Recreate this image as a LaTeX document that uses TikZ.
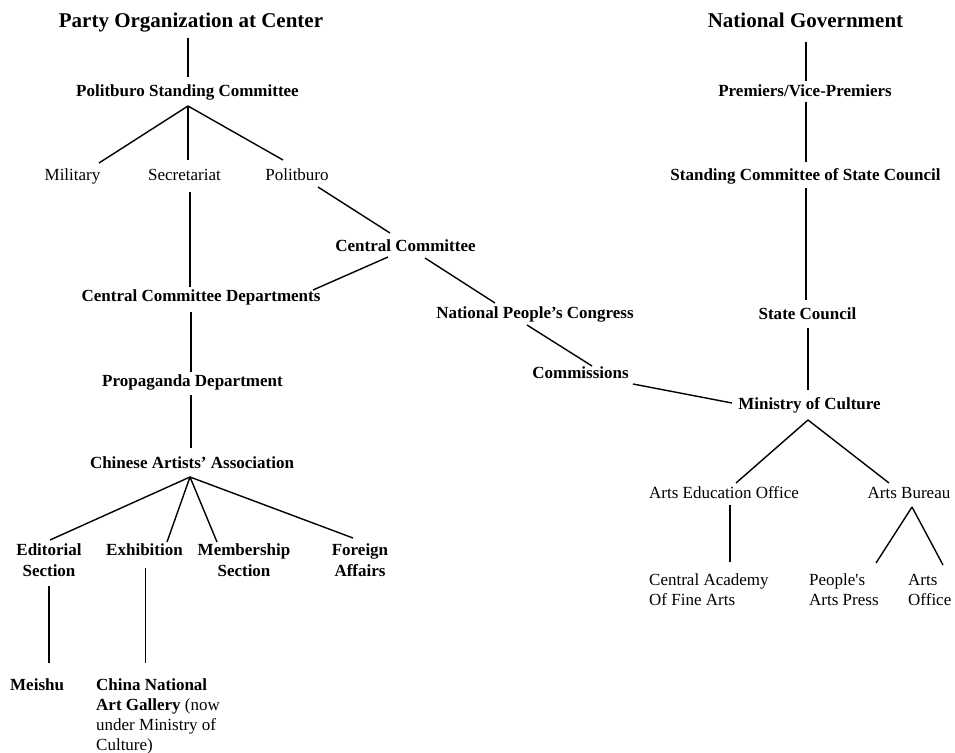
\documentclass[tikz,border=0pt]{standalone}
\usepackage{fontspec}
\setmainfont{Liberation Serif}[Ligatures=TeXOff]
\begin{document}
\begin{tikzpicture}[x=1pt,y=-1pt,
  lbl/.style={font=\fontsize{17}{20.5}\selectfont, inner sep=0pt, anchor=base},
  blbl/.style={lbl, font=\fontsize{17}{20.5}\selectfont\bfseries},
  ttl/.style={inner sep=0pt, anchor=base, font=\fontsize{21}{25}\selectfont\bfseries},
  link/.style={line width=1.4pt}]
\useasboundingbox (0,0) rectangle (955,752);
% nodes (multi-line nodes: base = baseline of last line)
\node[ttl] (party) at (191,28) {Party Organization at Center};
\node[ttl] (natgov) at (805.5,28) {National Government};
\node[blbl] (psc) at (187.5,96.5) {Politburo Standing Committee};
\node[blbl] (prem) at (805,96.5) {Premiers/Vice-Premiers};
\node[lbl] (mil) at (72.5,180) {Military};
\node[lbl] (sec) at (184.5,180) {Secretariat};
\node[lbl] (pol) at (297,180) {Politburo};
\node[blbl] (scsc) at (805.5,180) {Standing Committee of State Council};
\node[blbl] (cc) at (405.5,251.5) {Central Committee};
\node[blbl] (ccd) at (201,301.5) {Central Committee Departments};
\node[blbl] (npc) at (535,318) {National People’s Congress};
\node[blbl] (sc) at (807.5,319.5) {State Council};
\node[blbl] (com) at (580.5,378) {Commissions};
\node[blbl] (prop) at (192.5,386.5) {Propaganda Department};
\node[blbl] (moc) at (809.5,409) {Ministry of Culture};
\node[blbl] (caa) at (192,468) {Chinese Artists’ Association};
\node[lbl] (aeo) at (724,498) {Arts Education Office};
\node[lbl] (ab) at (909,498) {Arts Bureau};
\node[blbl, align=center] (edit) at (49,576) {Editorial\\Section};
\node[blbl] (exh) at (144.5,555) {Exhibition};
\node[blbl, align=center] (mem) at (244,576) {Membership\\Section};
\node[blbl, align=center] (for) at (360,576) {Foreign\\Affairs};
\node[lbl, align=left, anchor=base west] (cafa) at (649,605.5) {Central Academy\\Of Fine Arts};
\node[lbl, align=left, anchor=base west] (pap) at (809,605.5) {People's\\Arts Press};
\node[lbl, align=left, anchor=base west] (ao) at (908,605.5) {Arts\\Office};
\node[blbl, anchor=base west] (mei) at (10,690) {Meishu};
\node[lbl, align=left, anchor=base west, font=\fontsize{17}{20}\selectfont] (cnag) at (96,750) {\textbf{China National}\\\textbf{Art Gallery} (now\\under Ministry of\\Culture)};
% connector end points
\coordinate (partyB) at (188,38);   \coordinate (pscT) at (188,77);
\coordinate (pscB) at (188,106);
\coordinate (milT) at (99,163);     \coordinate (secT) at (188,160);
\coordinate (polT) at (283,160);
\coordinate (polB) at (318,187);    \coordinate (ccT) at (390,233);
\coordinate (secB) at (190,192);    \coordinate (ccdT) at (190,287);
\coordinate (ccBL) at (388,257);    \coordinate (ccdR) at (313,290);
\coordinate (ccBR) at (425,258);    \coordinate (npcT) at (495,303);
\coordinate (npcB) at (527,325);    \coordinate (comT) at (592,366);
\coordinate (comR) at (633,384);    \coordinate (mocL) at (732,403);
\coordinate (mocB) at (808,420);
\coordinate (aeoT) at (736,483);    \coordinate (abT) at (889,483);
\coordinate (aeoB) at (730,505);    \coordinate (cafaT) at (730,562);
\coordinate (abB) at (912,507);
\coordinate (papT) at (876,563);    \coordinate (aoT) at (943,565);
\coordinate (natgovB) at (806,42);  \coordinate (premT) at (806,81);
\coordinate (premB) at (806,102);   \coordinate (scscT) at (806,162);
\coordinate (scscB) at (806,188);   \coordinate (scT) at (806,300);
\coordinate (scB) at (808,328);     \coordinate (mocT) at (808,390);
\coordinate (ccdB) at (191,312);    \coordinate (propT) at (191,372);
\coordinate (propB) at (191,395);   \coordinate (caaT) at (191,448);
\coordinate (caaB) at (190,477);
\coordinate (editT) at (50,540);    \coordinate (exhT) at (167,542);
\coordinate (memT) at (217,542);    \coordinate (forT) at (353,538);
\coordinate (editB) at (49,586);    \coordinate (meiT) at (49,663);
\coordinate (exhB) at (145.5,568);  \coordinate (cnagT) at (145.5,663);
% connectors
\draw[link] (partyB) -- (pscT);
\draw[link] (pscB) -- (milT);
\draw[link] (pscB) -- (secT);
\draw[link] (pscB) -- (polT);
\draw[link] (polB) -- (ccT);
\draw[link] (secB) -- (ccdT);
\draw[link] (ccBL) -- (ccdR);
\draw[link] (ccBR) -- (npcT);
\draw[link] (npcB) -- (comT);
\draw[link] (comR) -- (mocL);
\draw[link] (mocB) -- (aeoT);
\draw[link] (mocB) -- (abT);
\draw[link] (aeoB) -- (cafaT);
\draw[link] (abB) -- (papT);
\draw[link] (abB) -- (aoT);
\draw[link] (natgovB) -- (premT);
\draw[link] (premB) -- (scscT);
\draw[link] (scscB) -- (scT);
\draw[link] (scB) -- (mocT);
\draw[link] (ccdB) -- (propT);
\draw[link] (propB) -- (caaT);
\draw[link] (caaB) -- (editT);
\draw[link] (caaB) -- (exhT);
\draw[link] (caaB) -- (memT);
\draw[link] (caaB) -- (forT);
\draw[link] (editB) -- (meiT);
\draw[link] (exhB) -- (cnagT);
\end{tikzpicture}
\end{document}
